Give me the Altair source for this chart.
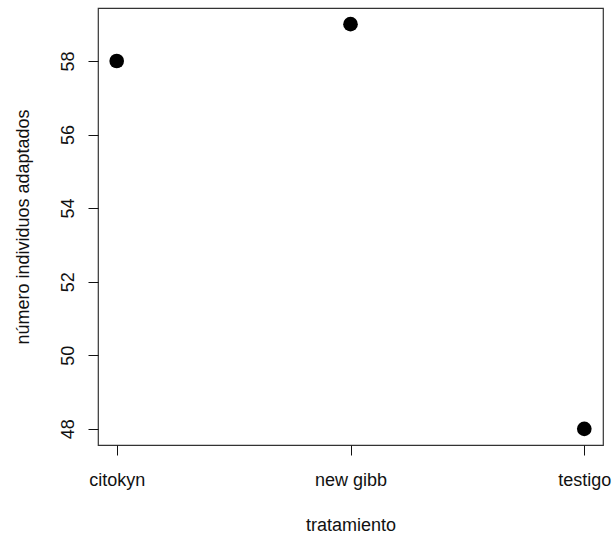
import altair as alt
import pandas as pd

tratamientos = ["citokyn", "new gibb", "testigo"]
valores = [58, 59, 48]
y_ticks = [48, 50, 52, 54, 56, 58]

df = pd.DataFrame({"tratamiento": tratamientos, "valor": valores})

FONT = "Liberation Sans"
W, H = 505, 437

chart = alt.Chart(df).mark_circle(size=215, color="black", opacity=1).encode(
    x=alt.X(
        "tratamiento:N",
        sort=tratamientos,
        scale=alt.Scale(type="point", padding=0.08),
        axis=alt.Axis(
            title="tratamiento",
            labelAngle=0,
            labelFont=FONT, labelFontSize=18, labelColor="#111",
            labelBaseline="alphabetic", labelPadding=30,
            tickSize=10, tickColor="#111", domain=False, grid=False,
            titleFont=FONT, titleFontSize=18, titleFontWeight="normal", titleColor="#111",
            titleBaseline="alphabetic", titleX=W / 2, titleY=85, titleAlign="center",
        ),
    ),
    y=alt.Y(
        "valor:Q",
        scale=alt.Scale(domain=[47.56, 59.44], nice=False, zero=False),
        axis=alt.Axis(
            title="número individuos adaptados",
            values=y_ticks,
            labelAngle=-90, labelAlign="center", labelBaseline="alphabetic",
            labelPadding=15,
            labelFont=FONT, labelFontSize=18, labelColor="#111",
            tickSize=10, tickColor="#111", domain=False, grid=False,
            titleFont=FONT, titleFontSize=18, titleFontWeight="normal", titleColor="#111",
            titleAngle=-90, titleBaseline="alphabetic", titleAlign="center",
            titleX=-70, titleY=H / 2,
        ),
    ),
).properties(
    width=W, height=H,
    autosize=alt.AutoSizeParams(type="none"),
    padding={"left": 98, "top": 8, "right": 9, "bottom": 90},
).configure(
    background="white",
    view=alt.ViewConfig(stroke="#333", strokeWidth=1.2),
)

chart.save("out.html", embed_options={"renderer": "svg", "actions": False})
